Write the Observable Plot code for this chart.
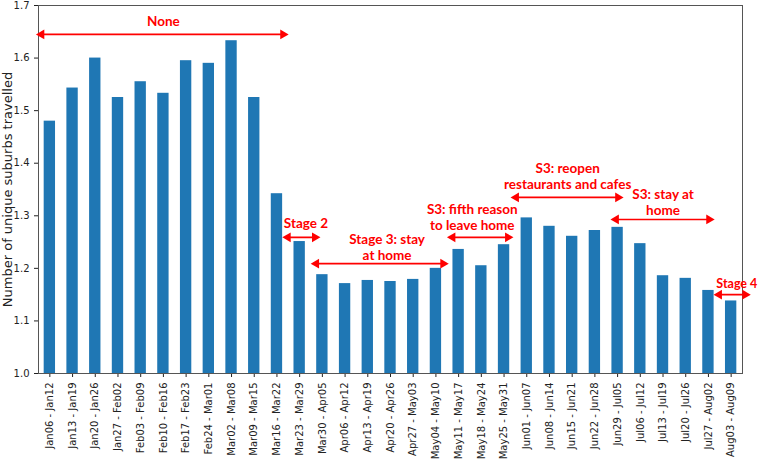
<!DOCTYPE html>
<html><head><meta charset="utf-8">
<script src="https://cdn.jsdelivr.net/npm/d3@7"></script>
<script src="https://cdn.jsdelivr.net/npm/@observablehq/plot@0.6"></script>
<style>body{margin:0;background:#fff}</style>
</head><body><div id="chart"></div>
<script>
const weeks = ["Jan06 - Jan12","Jan13 - Jan19","Jan20 - Jan26","Jan27 - Feb02","Feb03 - Feb09","Feb10 - Feb16","Feb17 - Feb23","Feb24 - Mar01","Mar02 - Mar08","Mar09 - Mar15","Mar16 - Mar22","Mar23 - Mar29","Mar30 - Apr05","Apr06 - Apr12","Apr13 - Apr19","Apr20 - Apr26","Apr27 - May03","May04 - May10","May11 - May17","May18 - May24","May25 - May31","Jun01 - Jun07","Jun08 - Jun14","Jun15 - Jun21","Jun22 - Jun28","Jun29 - Jul05","Jul06 - Jul12","Jul13 - Jul19","Jul20 - Jul26","Jul27 - Aug02","Aug03 - Aug09"];
const values = [1.480,1.543,1.600,1.525,1.555,1.533,1.595,1.590,1.633,1.525,1.342,1.251,1.188,1.171,1.177,1.175,1.179,1.200,1.236,1.205,1.245,1.296,1.280,1.261,1.272,1.278,1.247,1.186,1.181,1.158,1.138];
const yTicks = [1.0,1.1,1.2,1.3,1.4,1.5,1.6,1.7];
const yLabel = "Number of unique suburbs travelled";

const noteText = ["None","Stage 2","Stage 3: stay\nat home","S3: fifth reason\nto leave home","S3: reopen\nrestaurants and cafes","S3: stay at\nhome","Stage 4"];
const noteX = [5.0,11.28,14.85,18.6,22.8,27.0,30.25];
const noteY = [1.671,1.287,1.241,1.2975,1.376,1.326,1.171];
const arrowX1 = [-0.5,10.35,11.6,17.6,20.4,24.8,29.34];
const arrowX2 = [10.4,11.8,17.45,20.3,25.15,29.16,30.75];
const arrowY = [1.645,1.259,1.209,1.259,1.335,1.293,1.150];

const bars = weeks.map((w,i)=>({i, w, v: values[i]}));
const notes = noteText.map((t,k)=>({t, x: noteX[k], y: noteY[k], fs: k === 6 ? 12.5 : 13.5}));
const arrows = arrowX1.map((x1,k)=>({x1, x2: arrowX2[k], y: arrowY[k]}));
const red = "#ff0000";

const chart = Plot.plot({
  width: 758, height: 459,
  marginLeft: 38, marginRight: 16, marginTop: 5, marginBottom: 86,
  style: {fontFamily: "DejaVu Sans", fontSize: "10px", color: "#222", background: "#fff", overflow: "visible"},
  x: {domain: [-0.5, 30.5]},
  y: {domain: [1.0, 1.7]},
  marks: [
    Plot.rectY(bars, {x1: d=>d.i-0.25, x2: d=>d.i+0.25, y1: d=>1, y2: "v", fill: "#1f77b4"}),
    Plot.axisX({ticks: d3.range(weeks.length), tickFormat: i=>weeks[i], tickRotate: -90, tickSize: 4, fontSize: 10, label: null}),
    Plot.axisY({ticks: yTicks, tickFormat: d3.format(".1f"), tickSize: 4, fontSize: 10, label: null}),
    Plot.text([yLabel], {frameAnchor: "left", text: d=>d, rotate: -90, textAnchor: "middle", dx: -31, fontSize: 13, fill: "#222"}),
    Plot.frame({stroke: "#555"}),
    Plot.link(arrows, {x1: "x1", x2: "x2", y1: "y", y2: "y", stroke: red, strokeWidth: 1.6}),
    Plot.dot(arrows, {x: "x1", y: "y", symbol: "triangle", r: 3.6, fill: red, rotate: -90, dx: 3}),
    Plot.dot(arrows, {x: "x2", y: "y", symbol: "triangle", r: 3.6, fill: red, rotate: 90, dx: -3}),
    Plot.text(notes, {x: "x", y: "y", text: "t", fill: red, fontSize: "fs", fontWeight: "bold", fontFamily: "Lato", lineHeight: 1.2})
  ]
});
document.getElementById("chart").appendChild(chart);
</script>
</body></html>
